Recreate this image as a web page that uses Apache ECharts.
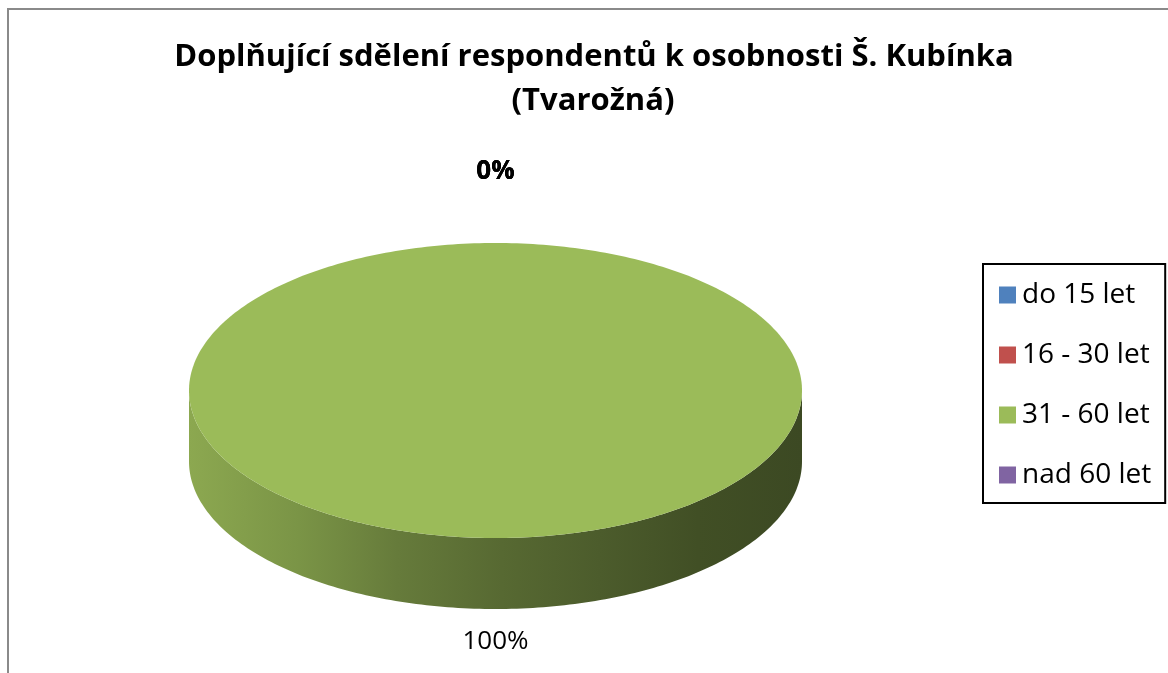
<!DOCTYPE html>
<html>
<head>
<meta charset="utf-8">
<script src="https://cdn.jsdelivr.net/npm/echarts@6/dist/echarts.min.js"></script>
<style>html,body{margin:0;padding:0;background:#fff}#c{width:1168px;height:673px}</style>
</head>
<body>
<div id="c"></div>
<script>
// ---- data ----
const titleLines = ['Doplňující sdělení respondentů k osobnosti Š. Kubínka', '(Tvarožná)'];
const categories = ['do 15 let', '16 - 30 let', '31 - 60 let', 'nad 60 let'];
const values = [0, 0, 100, 0];
const colors = ['#4F81BD', '#C0504D', '#9BBB59', '#8064A2'];

// ---- geometry / style ----
const CX = 495.5, CY = 390.5, RX = 306.5, RY = 147.5, DEPTH = 71;
const GAP_TOP = 71, GAP_BOTTOM = 33;
const FONT = '"Open Sans", "Noto Sans", sans-serif';
const total = values.reduce((a, b) => a + b, 0);

function shade(hex, k) {
  const n = parseInt(hex.slice(1), 16);
  const r = Math.round(((n >> 16) & 255) * k), g = Math.round(((n >> 8) & 255) * k), b = Math.round((n & 255) * k);
  return 'rgb(' + r + ',' + g + ',' + b + ')';
}
function pt(a, dy) { return [CX + RX * Math.sin(a), CY - RY * Math.cos(a) + (dy || 0)]; }
function arc(a0, a1, dy) {
  const out = [], n = Math.max(2, Math.ceil((a1 - a0) / (Math.PI / 180)));
  for (let k = 0; k <= n; k++) out.push(pt(a0 + (a1 - a0) * k / n, dy));
  return out;
}

function makeRender(idx) {
  return function (params, api) {
    const v = api.value(0);
    let before = 0;
    for (let j = 0; j < idx; j++) before += values[j];
    const a0 = before / total * Math.PI * 2;
    const a1 = a0 + v / total * Math.PI * 2;
    const base = colors[idx];
    const children = [];
    if (a1 > a0) {
      const s = Math.max(a0, Math.PI / 2), e = Math.min(a1, Math.PI * 1.5);
      if (e > s) {
        const top = arc(s, e, 0), bot = arc(s, e, DEPTH).reverse();
        children.push({
          type: 'polygon', z2: 1,
          shape: { points: top.concat(bot) },
          style: {
            fill: new echarts.graphic.LinearGradient(CX - RX, 0, CX + RX, 0, [
              { offset: 0, color: shade(base, 0.90) },
              { offset: 0.18, color: shade(base, 0.79) },
              { offset: 0.34, color: shade(base, 0.66) },
              { offset: 0.51, color: shade(base, 0.56) },
              { offset: 0.67, color: shade(base, 0.49) },
              { offset: 0.83, color: shade(base, 0.42) },
              { offset: 1, color: shade(base, 0.39) }
            ], true)
          }
        });
      }
      const full = (a1 - a0) >= Math.PI * 2 - 1e-9;
      const facePts = full ? arc(0, Math.PI * 2, 0) : [[CX, CY]].concat(arc(a0, a1, 0));
      children.push({ type: 'polygon', z2: 2, shape: { points: facePts }, style: { fill: base } });
    }
    const mid = (a0 + a1) / 2;
    const c = Math.cos(mid), sn = Math.sin(mid);
    let lx, ly;
    if (c >= 0) { lx = CX + (RX + GAP_TOP) * sn; ly = CY - (RY + GAP_TOP) * c; }
    else { lx = CX + (RX + GAP_BOTTOM) * sn; ly = CY + DEPTH + (RY + GAP_BOTTOM) * (-c); }
    // zero-size slices stack their labels on top of each other (appear bold)
    const stacked = v === 0;
    children.push({
      type: 'text', z2: 3, x: lx, y: ly,
      style: {
        text: Math.round(v / total * 100) + '%',
        fill: '#000', font: (stacked ? 'bold ' : '') + '26px ' + FONT, align: 'center', verticalAlign: 'middle'
      }
    });
    return { type: 'group', children: children };
  };
}

const series = categories.map((name, i) => ({
  type: 'custom', name: name, coordinateSystem: 'none',
  itemStyle: { color: colors[i] },
  data: [values[i]],
  renderItem: makeRender(i)
}));

const chart = echarts.init(document.getElementById('c'));
chart.setOption({
  animation: false,
  backgroundColor: '#fff',
  graphic: [
    { type: 'rect', z: -10, shape: { x: 8, y: 9, width: 1300, height: 800 }, style: { fill: 'none', stroke: '#8a8a8a', lineWidth: 2 } },
    { type: 'text', x: 594, y: 57, style: { text: titleLines[0], font: 'bold 31px ' + FONT, fill: '#000', align: 'center', verticalAlign: 'middle' } },
    { type: 'text', x: 593, y: 101, style: { text: titleLines[1], font: 'bold 31px ' + FONT, fill: '#000', align: 'center', verticalAlign: 'middle' } }
  ],
  legend: {
    orient: 'vertical', left: 983, top: 264,
    data: categories,
    icon: 'rect', itemWidth: 17, itemHeight: 17, itemGap: 30,
    padding: [16, 14, 13, 16],
    borderColor: '#000', borderWidth: 2,
    selectedMode: false,
    textStyle: { fontFamily: FONT, fontSize: 28, color: '#000', lineHeight: 30, padding: [0, 0, 0, 1] }
  },
  series: series
});
</script>
</body>
</html>
